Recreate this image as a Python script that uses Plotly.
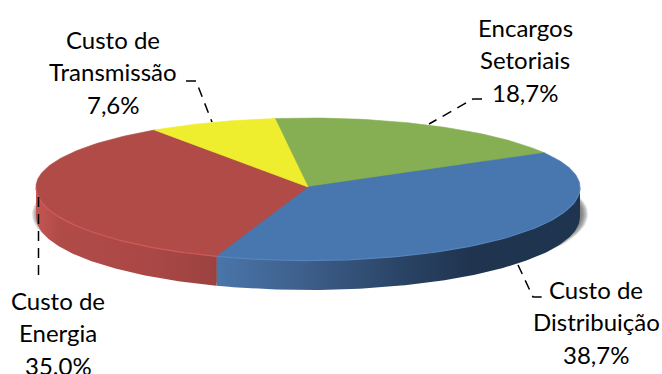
import numpy as np
import plotly.graph_objects as go

# Slices in drawing order, clockwise from the top of the disc
categories = ["Encargos Setoriais", "Custo de Distribuição", "Custo de Energia", "Custo de Transmissão"]
shares = [18.7, 38.7, 35.0, 7.6]
share_labels = ["18,7%", "38,7%", "35.0%", "7,6%"]
top_colors = ["#86AE52", "#4876AF", "#B04B48", "#EEEE2E"]
rim_colors = ["#9CC25F", "#5585BE", "#D25A56", "#F4F450"]

# Disc geometry in pixels; the near half is a little deeper for perspective
CX, CY, RX, RY_BACK, RY_FRONT, DEPTH = 308.0, 187.0, 272.0, 69.0, 73.0, 30.0
START_ANGLE = 97.0

# Wall shading: x position to colour, per slice that faces the viewer
wall_stops = {
    "Custo de Distribuição": [(218, (74, 117, 170)), (300, (62, 96, 140)), (400, (42, 68, 102)),
                              (470, (32, 52, 79)), (580, (31, 52, 79))],
    "Custo de Energia": [(36, (196, 86, 82)), (60, (176, 75, 72)), (150, (170, 72, 70)), (218, (155, 66, 64))],
}

label_lines = [
    (["Encargos", "Setoriais", "18,7%"], 525, 27),
    (["Custo de", "Distribuição", "38,7%"], 596, 289),
    (["Custo de", "Energia", "35.0%"], 58, 300),
    (["Custo de", "Transmissão", "7,6%"], 113, 39),
]
LINE_STEP = 32.5

leaders = [
    ([482, 473, 429], [99, 99, 124]),
    ([518, 533, 543], [265, 297, 297]),
    ([38.5, 38.5], [197, 280]),
    ([186, 196, 212], [81, 81, 122]),
]


def ell(t_deg, drop=0.0):
    t = np.radians(t_deg)
    s = np.sin(t)
    return CX + RX * np.cos(t), CY - np.where(s >= 0, RY_BACK, RY_FRONT) * s + drop


def rgb(c):
    return "rgb(%d,%d,%d)" % tuple(c)


def poly(fig, xs, ys, fill, line=None, width=0.6):
    fig.add_trace(go.Scatter(x=xs, y=ys, mode="lines", fill="toself", fillcolor=fill,
                             line=dict(color=line or fill, width=width),
                             hoverinfo="skip", showlegend=False))


fig = go.Figure()

# Soft drop shadow under the disc, offset to the right
t = np.linspace(0, 360, 181)
for k in range(7):
    grow = 6 - k
    x_s, y_s = ell(t, DEPTH - 3)
    poly(fig, CX + 2 + (x_s - CX) * (RX + grow) / RX, y_s,
         "rgba(70,70,70,0.14)", line="rgba(0,0,0,0)", width=0)

# Slice boundaries from the shares
sweeps = [s / sum(shares) * 360 for s in shares]
ends = START_ANGLE - np.cumsum(sweeps)
starts = np.concatenate([[START_ANGLE], ends[:-1]])

# Side wall: one band per front-facing slice with a left-to-right gradient
for name, a0, a1 in zip(categories, starts, ends):
    if name not in wall_stops:
        continue
    a_hi = min(a0 % 360 if a0 % 360 > a1 % 360 else a0 % 360 + 360, 360)
    a_lo = max(a1 % 360, 180)
    tt = np.linspace(a_lo, a_hi, 120)
    x_top, y_top = ell(tt)
    x_bot, y_bot = ell(tt[::-1], DEPTH)
    xs, ys = np.r_[x_top, x_bot], np.r_[y_top, y_bot]
    x0, x1 = xs.min(), xs.max()
    scale = [[min(1.0, max(0.0, (sx - x0) / (x1 - x0))), rgb(c)] for sx, c in wall_stops[name]]
    scale[0][0], scale[-1][0] = 0.0, 1.0
    fig.add_trace(go.Scatter(x=xs, y=ys, mode="lines", fill="toself", line=dict(width=0, color="rgba(0,0,0,0)"),
                             fillgradient=dict(type="horizontal", colorscale=scale),
                             hoverinfo="skip", showlegend=False))

# Flat top of each slice
for color, a0, a1 in zip(top_colors, starts, ends):
    tt = np.linspace(a0, a1, max(3, int(abs(a0 - a1))))
    x_arc, y_arc = ell(tt)
    poly(fig, np.r_[CX, x_arc, CX], np.r_[CY, y_arc, CY], color)

# Light bevel along the front edge of the top face
for color, a0, a1 in zip(rim_colors, starts, ends):
    a_hi, a_lo = a0 % 360, a1 % 360
    if a_hi <= a_lo:
        a_hi += 360
    a_lo, a_hi = max(a_lo, 180), min(a_hi, 360)
    if a_hi > a_lo:
        x_r, y_r = ell(np.linspace(a_lo, a_hi, 60), 0.6)
        fig.add_trace(go.Scatter(x=x_r, y=y_r, mode="lines", line=dict(color=color, width=1.2),
                                 hoverinfo="skip", showlegend=False))

# Dashed leader lines
for xs, ys in leaders:
    fig.add_trace(go.Scatter(x=xs, y=ys, mode="lines", line=dict(color="#000000", width=1.5, dash="10px,7px"),
                             hoverinfo="skip", showlegend=False))

annotations = []
for lines, x, y in label_lines:
    for i, text in enumerate(lines):
        annotations.append(dict(x=x, y=y + i * LINE_STEP, xref="x", yref="y", text=text, showarrow=False,
                                xanchor="center", yanchor="middle",
                                font=dict(family="Lato", size=24, color="#000000")))

fig.update_layout(
    width=662, height=374, margin=dict(l=0, r=0, t=0, b=0),
    paper_bgcolor="#FFFFFF", plot_bgcolor="#FFFFFF", showlegend=False,
    xaxis=dict(range=[0, 662], visible=False, fixedrange=True),
    yaxis=dict(range=[374, 0], visible=False, fixedrange=True),
    annotations=annotations,
)
fig.write_html("out.html", config={"displayModeBar": False})
